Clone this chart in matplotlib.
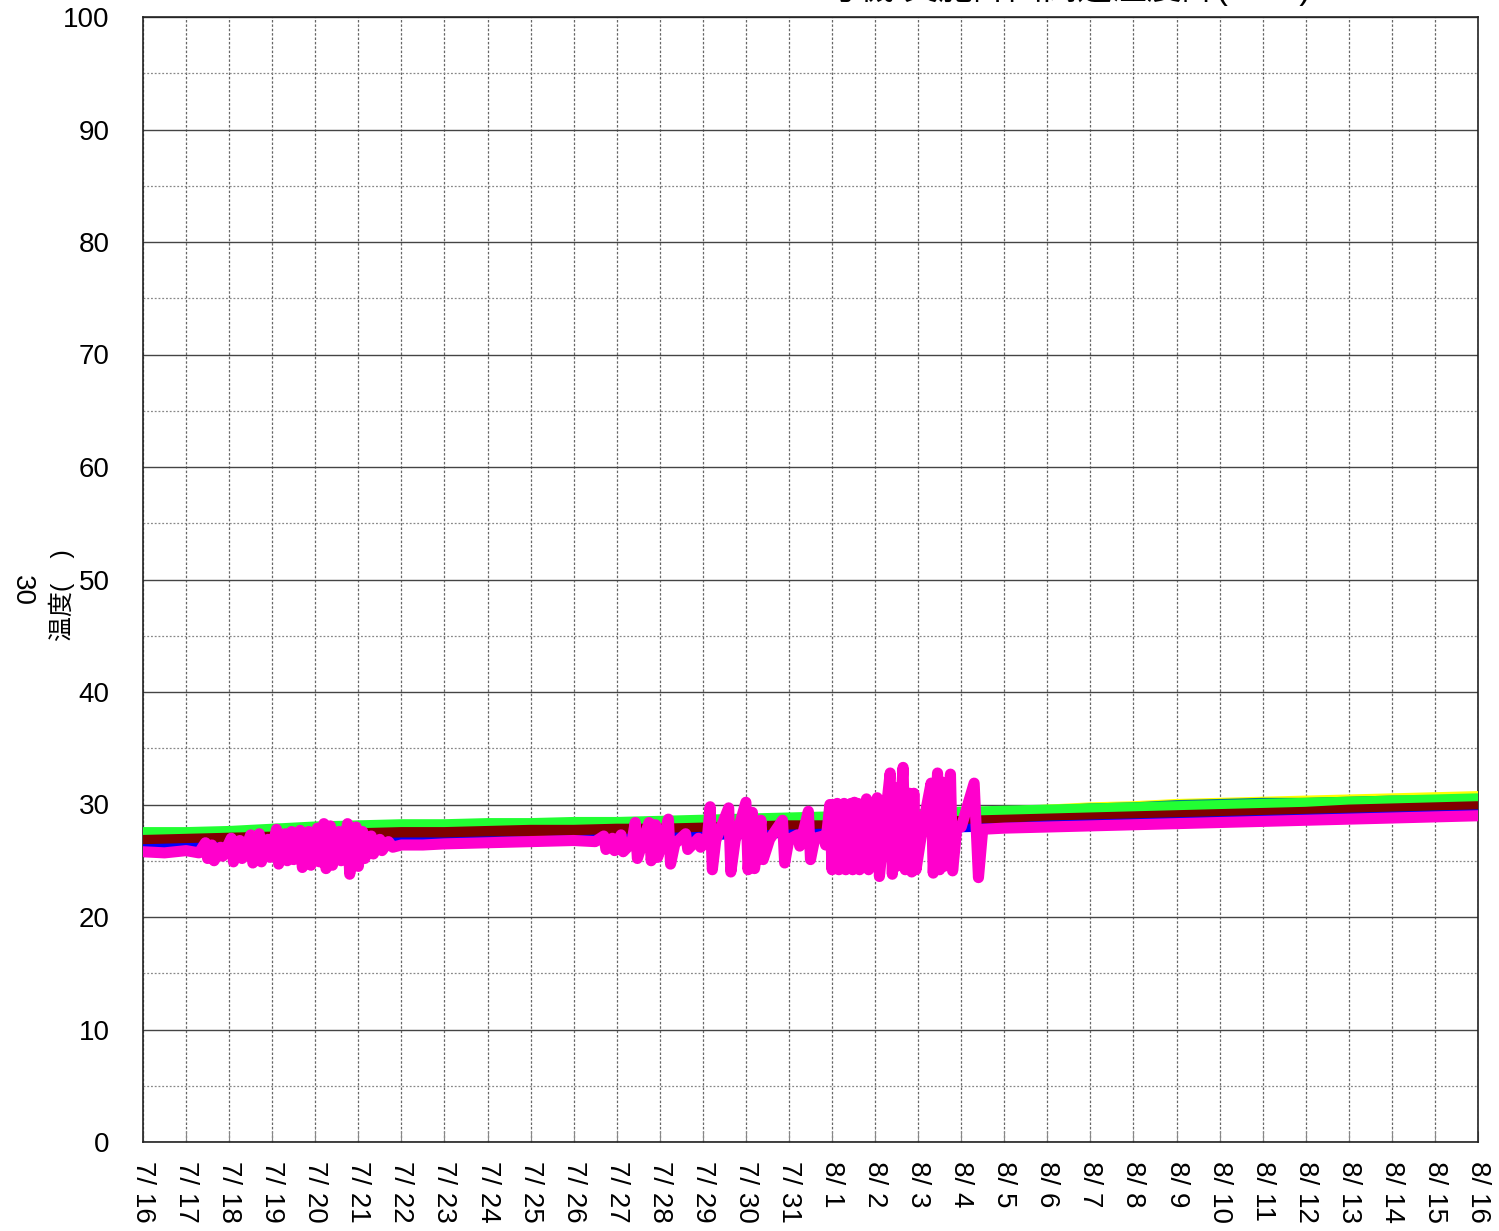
import matplotlib
matplotlib.use("Agg")
import matplotlib.pyplot as plt
from matplotlib.ticker import MultipleLocator

plt.rcParams['font.family'] = ['Liberation Sans', 'Noto Sans CJK JP', 'DejaVu Sans']

# days since 7/16
days = list(range(32))
day_labels = ["7/ {}".format(d) for d in range(16, 32)] + ["8/ {}".format(d) for d in range(1, 17)]

green = [27.5, 27.5, 27.6, 27.8, 28.0, 28.1, 28.2, 28.2, 28.3, 28.3, 28.4, 28.4, 28.5, 28.6, 28.7, 28.8,
         28.9, 29.0, 29.1, 29.3, 29.4, 29.5, 29.6, 29.7, 29.8, 29.9, 30.0, 30.1, 30.2, 30.3, 30.4, 30.5]
yellow = [27.4, 27.4, 27.5, 27.7, 27.9, 28.0, 28.1, 28.1, 28.2, 28.2, 28.3, 28.3, 28.4, 28.5, 28.6, 28.7,
          28.8, 28.9, 29.0, 29.2, 29.3, 29.5, 29.7, 29.8, 30.0, 30.1, 30.2, 30.3, 30.4, 30.5, 30.6, 30.7]
teal = [27.3, 27.3, 27.4, 27.6, 27.8, 27.9, 28.0, 28.0, 28.1, 28.1, 28.2, 28.2, 28.3, 28.4, 28.5, 28.6,
        28.7, 28.8, 28.9, 29.1, 29.2, 29.4, 29.6, 29.7, 29.9, 30.0, 30.1, 30.1, 30.2, 30.3, 30.3, 30.4]
darkred = [26.8, 26.9, 27.0, 27.1, 27.3, 27.4, 27.5, 27.5, 27.6, 27.7, 27.7, 27.8, 27.8, 27.9, 28.0, 28.1,
           28.1, 28.2, 28.3, 28.5, 28.6, 28.7, 28.8, 28.9, 29.0, 29.1, 29.2, 29.3, 29.5, 29.6, 29.7, 29.8]
orange = [26.4, 26.5, 26.6, 26.8, 26.9, 27.0, 27.1, 27.2, 27.2, 27.3, 27.4, 27.4, 27.5, 27.6, 27.6, 27.7,
          27.8, 27.9, 28.0, 28.1, 28.2, 28.4, 28.5, 28.6, 28.7, 28.8, 28.9, 29.0, 29.1, 29.2, 29.3, 29.4]
blue = [26.1, 26.2, 26.3, 26.4, 26.5, 26.6, 26.7, 26.7, 26.8, 26.8, 26.9, 27.0, 27.1, 27.2, 27.3, 27.4,
        27.5, 27.6, 27.7, 27.9, 28.0, 28.2, 28.3, 28.4, 28.5, 28.6, 28.7, 28.8, 28.9, 29.0, 29.1, 29.2]

# magenta: noisy series, (day, value)
magenta = [
    (0.0, 25.8), (0.5, 25.7), (1.0, 25.9), (1.3, 25.7),
    (1.45, 26.6), (1.5, 25.2), (1.6, 26.4), (1.65, 25.0), (1.8, 26.2), (1.85, 25.4),
    (2.05, 27.0), (2.1, 24.9), (2.25, 26.8), (2.3, 25.2), (2.5, 27.3), (2.55, 24.8),
    (2.7, 27.4), (2.75, 24.9), (2.9, 26.9), (2.95, 25.3), (3.1, 27.8), (3.15, 24.7),
    (3.3, 27.4), (3.35, 25.0), (3.45, 27.6), (3.5, 25.1), (3.65, 27.7), (3.7, 24.4),
    (3.85, 27.6), (3.9, 24.6), (4.05, 27.9), (4.1, 24.9), (4.2, 28.3), (4.25, 24.3),
    (4.35, 28.1), (4.4, 24.6), (4.55, 27.6), (4.6, 25.0), (4.75, 28.3), (4.8, 23.8),
    (4.95, 28.0), (5.0, 24.5), (5.1, 27.6), (5.15, 25.2), (5.3, 27.2), (5.35, 25.6),
    (5.5, 26.9), (5.55, 25.9), (5.7, 26.7), (5.8, 26.2), (6.0, 26.4),
    (6.5, 26.4), (7.0, 26.5), (8.0, 26.6), (9.0, 26.7), (10.0, 26.8), (10.5, 26.7),
    (10.7, 27.2), (10.75, 26.0), (10.9, 27.0), (10.95, 25.9), (11.1, 27.3), (11.15, 25.8),
    (11.35, 26.6), (11.43, 28.4), (11.48, 25.2), (11.6, 26.6), (11.75, 28.4), (11.8, 25.0),
    (11.9, 28.2), (11.95, 25.3), (12.05, 26.5), (12.2, 28.7), (12.25, 24.7), (12.35, 26.5),
    (12.6, 27.4), (12.65, 26.0), (12.8, 26.6), (12.9, 27.0), (12.95, 26.2),
    (13.1, 26.8), (13.17, 29.8), (13.22, 24.2), (13.3, 26.8), (13.6, 29.7), (13.65, 24.0),
    (13.75, 26.8), (14.0, 30.2), (14.05, 24.2), (14.15, 29.3), (14.2, 24.3), (14.35, 28.6),
    (14.4, 25.1), (14.55, 26.9), (14.85, 28.6), (14.9, 24.8), (15.0, 26.9), (15.2, 27.3),
    (15.25, 26.3), (15.45, 29.4), (15.5, 25.1), (15.6, 27.0), (15.8, 27.2), (15.85, 26.4),
    (15.95, 30.0), (16.0, 24.2), (16.04, 30.0), (16.08, 24.3), (16.12, 30.1), (16.16, 24.2),
    (16.2, 30.0), (16.24, 24.3), (16.28, 30.1), (16.32, 24.2), (16.36, 30.0), (16.4, 24.4),
    (16.44, 30.1), (16.48, 24.2), (16.52, 30.2), (16.56, 24.3), (16.6, 30.1), (16.64, 24.2),
    (16.72, 27.5), (16.8, 30.5), (16.85, 24.2), (16.95, 27.8), (17.05, 30.6), (17.1, 23.6),
    (17.2, 27.5), (17.35, 32.8), (17.4, 23.8), (17.45, 31.5), (17.5, 24.5), (17.65, 33.3),
    (17.7, 24.2), (17.8, 31.0), (17.85, 24.0), (17.9, 31.0), (17.95, 24.2), (18.1, 27.9),
    (18.3, 31.9), (18.35, 23.9), (18.45, 32.8), (18.5, 24.2), (18.55, 32.0), (18.6, 24.5),
    (18.75, 32.7), (18.8, 24.1), (18.9, 28.0), (19.0, 28.0), (19.3, 31.9), (19.4, 23.5),
    (19.5, 27.8), (20.0, 27.9), (21.0, 28.0), (22.0, 28.1), (23.0, 28.2), (24.0, 28.3),
    (25.0, 28.4), (26.0, 28.5), (27.0, 28.6), (28.0, 28.7), (29.0, 28.8), (30.0, 28.9),
    (31.0, 29.0),
]
mag_t = [p[0] for p in magenta]
mag_v = [p[1] for p in magenta]

fig = plt.figure(figsize=(14.99, 12.31), dpi=100)
ax = fig.add_axes([143/1499, 1-1142/1231, (1478-143)/1499, (1142-17)/1231])

lw = 8
kw = dict(solid_capstyle="round", solid_joinstyle="round", zorder=3)
ax.plot(days, yellow, color="#ffff00", lw=lw, **kw)
ax.plot(days, teal, color="#008080", lw=lw, **kw)
ax.plot(days, green, color="#22ff33", lw=lw, **kw)
ax.plot(days, orange, color="#ff6600", lw=lw, **kw)
ax.plot(days, darkred, color="#800000", lw=lw, **kw)
ax.plot(days, blue, color="#0000ff", lw=lw-2, **kw)
ax.plot(mag_t, mag_v, color="#ff00cc", lw=lw, **kw)

ax.set_xlim(0, 31)
ax.set_ylim(0, 100)
ax.set_xticks(days)
ax.set_xticklabels(day_labels, rotation=270, fontsize=20, va="top", ha="center")
ax.yaxis.set_major_locator(MultipleLocator(10))
ax.yaxis.set_minor_locator(MultipleLocator(5))
ax.tick_params(axis="y", which="major", labelsize=20, direction="in", length=0, pad=24)
ax.tick_params(axis="y", which="minor", length=0)
ax.tick_params(axis="x", direction="in", length=8, width=0.8, color="#888888", pad=14)

ax.grid(axis="y", which="major", color="#444444", lw=1.0, ls="-", zorder=1)
ax.grid(axis="y", which="minor", color="#888888", lw=0.9, ls=(0, (1.5, 1.5)), zorder=1)
ax.grid(axis="x", which="major", color="#666666", lw=0.9, ls=(0, (2, 1.5)), zorder=1)
ax.set_axisbelow(True)
for s in ax.spines.values():
    s.set_color("#222222")
    s.set_linewidth(1.2)

# title, clipped at top edge as in original
fig.text(1058/1499, 1-6/1231, "3号機 実施計画関連温度計(RPV)", fontsize=25, ha="center", va="bottom")
# y label
fig.text(62/1499, 1-595/1231, "温度(　)", fontsize=18, rotation=90, ha="center", va="center")
fig.text(22/1499, 1-590/1231, "30", fontsize=20, rotation=270, ha="center", va="center")

fig.savefig("out.png", dpi=100)
